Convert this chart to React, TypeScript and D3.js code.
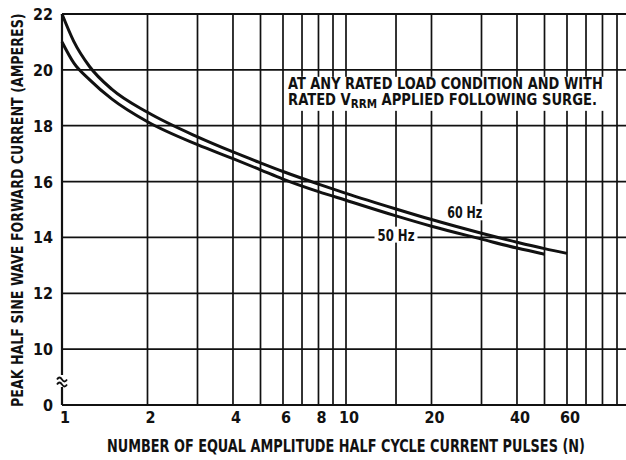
import { useEffect, useRef } from "react";
import * as d3 from "d3";

// 60 Hz curve (upper)
const pulses60 = [1, 1.1, 1.25, 1.5, 2, 3, 4, 5, 6, 8, 10, 15, 20, 30, 40, 50, 60];
const current60 = [22, 21.02, 20.12, 19.3, 18.48, 17.6, 17.06, 16.67, 16.36, 15.91, 15.58, 15.02, 14.64, 14.15, 13.83, 13.6, 13.43];

// 50 Hz curve (lower)
const pulses50 = [1, 1.1, 1.25, 1.5, 2, 3, 4, 5, 6, 8, 10, 15, 20, 30, 40, 50];
const current50 = [21, 20.25, 19.65, 18.95, 18.14, 17.32, 16.82, 16.42, 16.09, 15.64, 15.33, 14.77, 14.4, 13.94, 13.62, 13.4];

const xGridValues = [1, 2, 3, 4, 5, 6, 7, 8, 9, 10, 15, 20, 30, 40, 50, 60, 70, 80, 90, 100];
const xTickLabels = [1, 2, 4, 6, 8, 10, 20, 40, 60];
const yTickValues = [8, 10, 12, 14, 16, 18, 20, 22];
const yTickLabels = ["0", "10", "12", "14", "16", "18", "20", "22"];

const FONT = "'Liberation Sans Narrow', 'DejaVu Sans Condensed', 'Liberation Sans', Arial, sans-serif";

export default function App() {
  const svgRef = useRef(null);

  useEffect(() => {
    if (!svgRef.current) return;

    const width = 626;
    const height = 460;

    const svg = d3.select(svgRef.current);
    svg.selectAll("*").remove();
    svg.attr("viewBox", `0 0 ${width} ${height}`).attr("width", width).attr("height", height);

    svg.append("rect").attr("width", width).attr("height", height).attr("fill", "white");

    const x = d3.scaleLog().domain([1, 100]).range([62, 630]);
    const y = d3.scaleLinear().domain([8, 22]).range([405, 14]);

    const ink = "#111";

    // squeeze a text horizontally so that it spans `w` pixels
    const fit = (sel, w, tx, ty, rot = 0) => {
      const len = sel.node().getComputedTextLength() || w;
      sel.attr("transform", `translate(${tx},${ty}) rotate(${rot}) scale(${w / len},1)`);
      return sel;
    };

    // vertical grid
    svg
      .selectAll(".vgrid")
      .data(xGridValues)
      .join("line")
      .attr("x1", (d) => x(d))
      .attr("x2", (d) => x(d))
      .attr("y1", y(22))
      .attr("y2", y(8))
      .attr("stroke", ink)
      .attr("stroke-width", (d) => (d === 1 ? 2.2 : 1.7));

    // horizontal grid
    svg
      .selectAll(".hgrid")
      .data(yTickValues)
      .join("line")
      .attr("x1", x(1))
      .attr("x2", width)
      .attr("y1", (d) => y(d))
      .attr("y2", (d) => y(d))
      .attr("stroke", ink)
      .attr("stroke-width", (d) => (d === 8 || d === 22 ? 2.2 : 1.7));

    // axis break
    const by = y(8) - 24;
    svg
      .append("rect")
      .attr("x", x(1) - 6)
      .attr("y", by - 6)
      .attr("width", 12)
      .attr("height", 12)
      .attr("fill", "white");
    [-2.5, 2.5].forEach((off) => {
      svg
        .append("path")
        .attr("d", `M${x(1) - 5},${by + off + 1} q2.5,-4 5,0 t5,0`)
        .attr("fill", "none")
        .attr("stroke", ink)
        .attr("stroke-width", 1.8);
    });

    // curves
    const line = d3
      .line<[number, number]>()
      .x((d) => x(d[0]))
      .y((d) => y(d[1]))
      .curve(d3.curveMonotoneX);

    const series = [
      pulses60.map((p, i) => [p, current60[i]] as [number, number]),
      pulses50.map((p, i) => [p, current50[i]] as [number, number]),
    ];
    series.forEach((s) => {
      svg
        .append("path")
        .attr("d", line(s))
        .attr("fill", "none")
        .attr("stroke", ink)
        .attr("stroke-width", 3);
    });

    // curve labels with white background
    const label = (text, cx, cy, w) => {
      svg
        .append("rect")
        .attr("x", cx - w / 2 - 3)
        .attr("y", cy - 8)
        .attr("width", w + 6)
        .attr("height", 16)
        .attr("fill", "white");
      const t = svg
        .append("text")
        .attr("font-family", FONT)
        .attr("font-weight", "bold")
        .attr("font-size", "16px")
        .attr("fill", ink)
        .text(text);
      fit(t, w, cx - w / 2, cy + 6);
    };
    label("60 Hz", x(26.2), y(14.9), 35);
    label("50 Hz", x(15), y(14.1), 37);

    // annotation
    const ax = x(6.25);
    svg
      .append("rect")
      .attr("x", ax - 4)
      .attr("y", y(19.75))
      .attr("width", 324)
      .attr("height", 34)
      .attr("fill", "white");
    const line1 = svg
      .append("text")
      .attr("font-family", FONT)
      .attr("font-weight", "bold")
      .attr("font-size", "16.5px")
      .attr("fill", ink)
      .text("AT ANY RATED LOAD CONDITION AND WITH");
    fit(line1, 315, ax, 89);
    const line2 = svg
      .append("text")
      .attr("font-family", FONT)
      .attr("font-weight", "bold")
      .attr("font-size", "16.5px")
      .attr("fill", ink);
    line2.append("tspan").text("RATED V");
    line2.append("tspan").attr("dy", 3).attr("font-size", "13px").text("RRM");
    line2.append("tspan").attr("dy", -3).text(" APPLIED FOLLOWING SURGE.");
    fit(line2, 309, ax, 105);

    // y tick labels
    svg
      .selectAll(".ylab")
      .data(yTickValues)
      .join("text")
      .attr("x", 53)
      .attr("y", (d) => y(d) + 6)
      .attr("text-anchor", "end")
      .attr("font-family", FONT)
      .attr("font-weight", "bold")
      .attr("font-size", "16px")
      .attr("fill", ink)
      .text((d, i) => yTickLabels[i]);

    // x tick labels
    svg
      .selectAll(".xlab")
      .data(xTickLabels)
      .join("text")
      .attr("x", (d) => x(d) + 3)
      .attr("y", 423)
      .attr("text-anchor", "middle")
      .attr("font-family", FONT)
      .attr("font-weight", "bold")
      .attr("font-size", "16px")
      .attr("fill", ink)
      .text((d) => d);

    // axis titles
    const xTitle = svg
      .append("text")
      .attr("font-family", FONT)
      .attr("font-weight", "bold")
      .attr("font-size", "18px")
      .attr("fill", ink)
      .text("NUMBER OF EQUAL AMPLITUDE HALF CYCLE CURRENT PULSES (N)");
    fit(xTitle, 478, 107, 452);

    const yTitle = svg
      .append("text")
      .attr("font-family", FONT)
      .attr("font-weight", "bold")
      .attr("font-size", "15px")
      .attr("fill", ink)
      .text("PEAK HALF SINE WAVE FORWARD CURRENT (AMPERES)");
    fit(yTitle, 394, 23, 407, -90);
  }, []);

  return <svg ref={svgRef} style={{ position: "absolute", left: 0, top: 0 }} />;
}
